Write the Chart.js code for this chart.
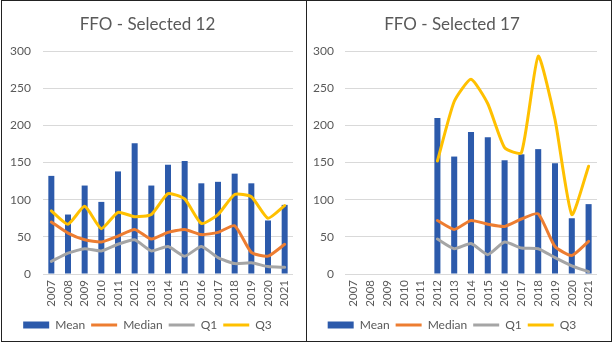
<!DOCTYPE html>
<html>
<head>
<meta charset="utf-8">
<script src="https://cdn.jsdelivr.net/npm/chart.js@4"></script>
<style>
    html, body { margin: 0; padding: 0; background: #fff; }
    #frame { position: absolute; left: 1px; top: 0; width: 611px; height: 342px; box-sizing: border-box; border: 1px solid #222; }
    #divider { position: absolute; left: 306px; top: 0; width: 1px; height: 342px; background: #222; }
    .panel { position: absolute; top: 1px; }
</style>
</head>
<body>
<div id="frame"></div>
<div id="divider"></div>
<canvas id="c12" class="panel" style="left:2px" width="304" height="340"></canvas>
<canvas id="c17" class="panel" style="left:307px" width="303" height="340"></canvas>
<script>
// categories
const years = ["2007", "2008", "2009", "2010", "2011", "2012", "2013", "2014",
               "2015", "2016", "2017", "2018", "2019", "2020", "2021"];

// FFO - Selected 12
const mean12   = [132, 80, 119, 97, 138, 176, 119, 147, 152, 122, 124, 135, 122, 72, 93];
const median12 = [70, 55, 46, 43, 51, 60, 47, 56, 60, 53, 56, 65, 29, 24, 40];
const q1_12    = [17, 28, 34, 31, 40, 46, 31, 37, 24, 37, 22, 14, 15, 10, 9];
const q3_12    = [85, 67, 91, 61, 83, 77, 80, 108, 101, 68, 80, 107, 104, 75, 92];

// FFO - Selected 17 (no data before 2012)
const mean17   = [null, null, null, null, null, 210, 158, 191, 184, 153, 161, 168, 149, 75, 94];
const median17 = [null, null, null, null, null, 72, 60, 72, 67, 64, 74, 81, 37, 25, 44];
const q1_17    = [null, null, null, null, null, 47, 34, 41, 26, 43, 35, 34, 22, 11, 3];
const q3_17    = [null, null, null, null, null, 152, 232, 262, 229, 170, 163, 293, 208, 80, 145];

const yMin = 0, yMax = 300, yStep = 50;

Chart.defaults.font.family = "Lato, 'Liberation Sans', sans-serif";
Chart.defaults.color = "#595959";

function lineSet(label, data, color) {
    return {
        type: "line", label: label, data: data,
        borderColor: color, backgroundColor: color,
        borderWidth: 3, pointRadius: 0, tension: 0.18,
        borderCapStyle: "round", borderJoinStyle: "round",
        order: 0
    };
}

function renderPanel(canvasId, title, mean, median, q1, q3, yWidth, yPad) {
    const ctx = document.getElementById(canvasId).getContext("2d");
    return new Chart(ctx, {
        data: {
            labels: years,
            datasets: [
                {
                    type: "bar", label: "Mean", data: mean,
                    backgroundColor: "#2c5aab", borderWidth: 0,
                    barPercentage: 0.36, categoryPercentage: 1, order: 1
                },
                lineSet("Median", median, "#ed7d31"),
                lineSet("Q1", q1, "#a5a5a5"),
                lineSet("Q3", q3, "#ffc000")
            ]
        },
        options: {
            responsive: false,
            animation: false,
            layout: { padding: { top: 0, right: 13, bottom: 0, left: 0 } },
            scales: {
                x: {
                    grid: { display: false, drawTicks: false },
                    border: { display: false },
                    ticks: { minRotation: 90, maxRotation: 90, autoSkip: false, padding: 6, font: { size: 11.5 } },
                    afterFit: s => { s.height = 39; }
                },
                y: {
                    min: yMin, max: yMax,
                    ticks: { stepSize: yStep, padding: yPad, font: { size: 12 } },
                    grid: { color: "#d9d9d9", drawTicks: false },
                    border: { display: false },
                    afterFit: s => { s.width = yWidth; }
                }
            },
            plugins: {
                title: {
                    display: true, text: title, color: "#595959",
                    font: { size: 17, weight: "normal" },
                    padding: { top: 13.8, bottom: 15.8 }
                },
                legend: {
                    position: "bottom",
                    labels: {
                        usePointStyle: true, pointStyleWidth: 26, boxHeight: 7,
                        padding: 6, font: { size: 12 }, color: "#595959",
                        sort: (a, b) => a.datasetIndex - b.datasetIndex,
                        generateLabels: chart =>
                            Chart.defaults.plugins.legend.labels.generateLabels(chart).map(l => {
                                l.pointStyle = l.datasetIndex === 0 ? "rect" : "line";
                                return l;
                            })
                    }
                },
                tooltip: { enabled: false }
            }
        }
    });
}

renderPanel("c12", "FFO - Selected 12", mean12, median12, q1_12, q3_12, 41, 12);
renderPanel("c17", "FFO - Selected 17", mean17, median17, q1_17, q3_17, 38, 11);
</script>
</body>
</html>
